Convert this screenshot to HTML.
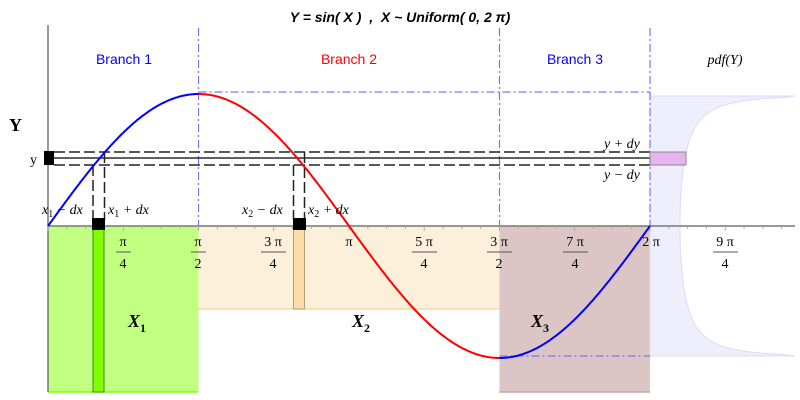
<!DOCTYPE html>
<html><head><meta charset="utf-8"><style>
html,body{margin:0;padding:0;background:#fff}
svg{display:block}
text{font-family:"Liberation Serif",serif}
.s{font-family:"Liberation Sans",sans-serif}
</style></head><body>
<svg id="g" width="800" height="400" viewBox="0 0 800 400" xmlns="http://www.w3.org/2000/svg">
<rect x="48" y="226" width="150.5" height="166" fill="#c0ff80"/>
<rect x="198.5" y="226" width="301" height="83" fill="#fdf0da"/>
<line x1="198.5" y1="309" x2="499.5" y2="309" stroke="#f8d8a8" stroke-width="1.5"/>
<rect x="499.5" y="226" width="150.5" height="166" fill="#dcc5c5"/>
<line x1="48" y1="392" x2="198" y2="392" stroke="#80ff00" stroke-width="1.5"/>
<line x1="499" y1="392" x2="650" y2="392" stroke="#c8a8a8" stroke-width="1.5"/>
<path id="pdf" fill="#eeeefc" stroke="#dcdcf8" stroke-width="1"/>
<rect x="93" y="226" width="11" height="166" fill="#80ff00" stroke="#4a8a20" stroke-width="1"/>
<rect x="293.5" y="226" width="11" height="83" fill="#fddcaa" stroke="#b0a080" stroke-width="1"/>
<line x1="48" y1="25" x2="48" y2="392" stroke="#777" stroke-width="1.5"/>
<line x1="48" y1="226" x2="795" y2="226" stroke="#777" stroke-width="1.5"/>
<g id="ticks" stroke="#aaa" stroke-width="1"></g>
<g stroke="#8070f0" stroke-width="1.2" stroke-dasharray="8,3,2,3" fill="none">
<line x1="198.5" y1="28" x2="198.5" y2="226"/>
<line x1="499.5" y1="28" x2="499.5" y2="226"/>
<line x1="650" y1="28" x2="650" y2="226"/>
<line x1="198.5" y1="92" x2="650" y2="92"/>
<line x1="499.5" y1="356" x2="650" y2="356"/>
</g>
<line x1="54" y1="158" x2="650" y2="158" stroke="#000" stroke-width="1.3"/>
<g stroke="#222" stroke-width="1.5" stroke-dasharray="11,4" fill="none">
<line x1="54" y1="152" x2="650" y2="152"/>
<line x1="54" y1="165" x2="650" y2="165"/>
<line x1="93" y1="165" x2="93" y2="220"/>
<line x1="104.5" y1="152" x2="104.5" y2="220"/>
<line x1="293.5" y1="165" x2="293.5" y2="220"/>
<line x1="304.5" y1="152" x2="304.5" y2="220"/>
</g>
<rect x="650" y="152" width="36" height="13" fill="#e8b4f0" stroke="#888" stroke-width="1"/>
<rect x="44" y="151" width="10" height="14" fill="#000"/>
<rect x="92" y="218" width="13" height="12" fill="#000"/>
<rect x="293" y="218" width="13" height="12" fill="#000"/>
<path id="blue1" fill="none" stroke="#0000ff" stroke-width="2"/>
<path id="red" fill="none" stroke="#ff0000" stroke-width="2"/>
<path id="blue2" fill="none" stroke="#0000ff" stroke-width="2"/>
<text x="400" y="22" class="s" font-size="14" font-weight="bold" font-style="italic" text-anchor="middle">Y = sin( X )&#160;&#160;,&#160;&#160;X ~ Uniform( 0, 2 π)</text>
<text x="124" y="64" class="s" font-size="14" fill="#0000ff" text-anchor="middle">Branch 1</text>
<text x="349" y="64" class="s" font-size="14" fill="#ff0000" text-anchor="middle">Branch 2</text>
<text x="575" y="64" class="s" font-size="14" fill="#0000ff" text-anchor="middle">Branch 3</text>
<text x="725" y="64" font-size="14" font-style="italic" text-anchor="middle">pdf(Y)</text>
<text x="9" y="131" font-size="18" font-weight="bold">Y</text>
<text x="30" y="164" font-size="14">y</text>
<text x="604" y="148" font-size="14" font-style="italic">y + dy</text>
<text x="604" y="179" font-size="14" font-style="italic">y − dy</text>
<text x="42" y="214" font-size="14" font-style="italic">x<tspan font-size="10" dy="3" font-style="normal">1</tspan><tspan dy="-3"> − dx</tspan></text>
<text x="108" y="214" font-size="14" font-style="italic">x<tspan font-size="10" dy="3" font-style="normal">1</tspan><tspan dy="-3"> + dx</tspan></text>
<text x="242" y="214" font-size="14" font-style="italic">x<tspan font-size="10" dy="3" font-style="normal">2</tspan><tspan dy="-3"> − dx</tspan></text>
<text x="308" y="214" font-size="14" font-style="italic">x<tspan font-size="10" dy="3" font-style="normal">2</tspan><tspan dy="-3"> + dx</tspan></text>
<g font-size="14" text-anchor="middle">
<text x="123" y="246">π</text><line x1="116" y1="252" x2="131" y2="252" stroke="#555"/><text x="123" y="268">4</text>
<text x="198" y="246">π</text><line x1="191" y1="252" x2="206" y2="252" stroke="#555"/><text x="198" y="268">2</text>
<text x="273" y="246">3 π</text><line x1="261" y1="252" x2="286" y2="252" stroke="#555"/><text x="273" y="268">4</text>
<text x="349" y="246">π</text>
<text x="424" y="246">5 π</text><line x1="412" y1="252" x2="437" y2="252" stroke="#555"/><text x="424" y="268">4</text>
<text x="499" y="246">3 π</text><line x1="487" y1="252" x2="512" y2="252" stroke="#555"/><text x="499" y="268">2</text>
<text x="575" y="246">7 π</text><line x1="563" y1="252" x2="588" y2="252" stroke="#555"/><text x="575" y="268">4</text>
<text x="651" y="246">2 π</text>
<text x="725" y="246">9 π</text><line x1="713" y1="252" x2="738" y2="252" stroke="#555"/><text x="725" y="268">4</text>
</g>
<text x="128" y="327" font-size="18" font-style="italic" font-weight="bold">X<tspan font-size="12" dy="5" font-style="normal">1</tspan></text>
<text x="352" y="327" font-size="18" font-style="italic" font-weight="bold">X<tspan font-size="12" dy="5" font-style="normal">2</tspan></text>
<text x="531" y="327" font-size="18" font-style="italic" font-weight="bold">X<tspan font-size="12" dy="5" font-style="normal">3</tspan></text>
</svg>
<script>
var K=95.81,X=function(t){return 48+t*K},Y=function(s){return 226-132*s};
function sp(a,b){var d="";for(var i=0;i<=120;i++){var t=a+(b-a)*i/120;d+=(i?"L":"M")+X(t).toFixed(1)+","+Y(Math.sin(t)).toFixed(1);}return d;}
var P=Math.PI;
document.getElementById("blue1").setAttribute("d",sp(0,P/2));
document.getElementById("red").setAttribute("d",sp(P/2,3*P/2));
document.getElementById("blue2").setAttribute("d",sp(3*P/2,2*P));
var d="M650,"+Y(0.985).toFixed(1);
for(var i=0;i<=200;i++){var s=0.985-1.97*i/200;var x=Math.min(795,650+30/Math.sqrt(1-s*s));d+="L"+x.toFixed(1)+","+Y(s).toFixed(1);}
d+="L650,"+Y(-0.985).toFixed(1)+"Z";
document.getElementById("pdf").setAttribute("d",d);
var g=document.getElementById("ticks"),h="";
for(var t=0;t<=2.5*P;t+=P/16){var x=X(t);if(x>795)break;var L=(Math.abs((t/(P/4))-Math.round(t/(P/4)))<1e-6)?5:3;h+='<line x1="'+x+'" y1="226" x2="'+x+'" y2="'+(226+L)+'"/>';}
g.innerHTML=h;
</script>
</body></html>
